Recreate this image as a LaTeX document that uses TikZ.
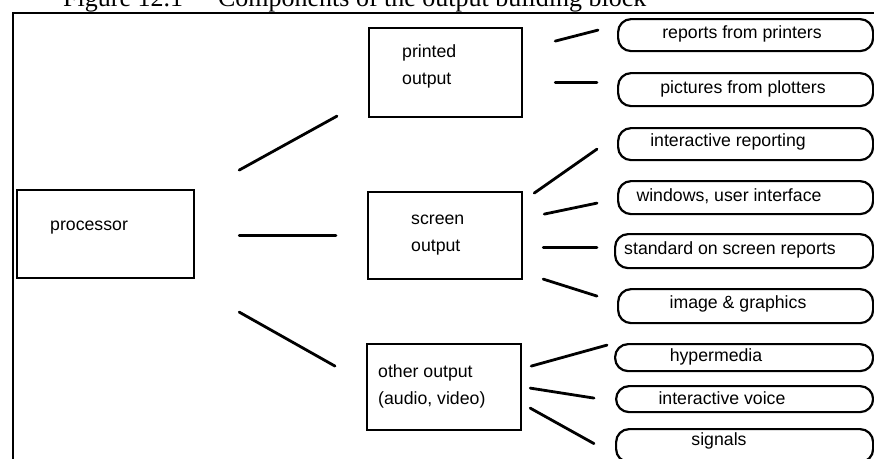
\documentclass[tikz,border=0pt]{standalone}
\usepackage{fontspec}
\setmainfont{Liberation Sans}
\newfontfamily\titlefont{Liberation Serif}
\begin{document}
\begin{tikzpicture}[x=1pt,y=-1pt,
  frame/.style={line width=2pt},
  block/.style={draw,line width=2.2pt,rectangle,anchor=north west,inner sep=0pt},
  leaf/.style={draw,line width=2.2pt,rectangle,rounded corners=13pt,anchor=north west,inner sep=0pt,minimum width=255pt},
  txt/.style={inner sep=0pt,font=\fontsize{17.7}{27}\selectfont},
  link/.style={line width=2.8pt,line cap=round}]
\clip (0,0) rectangle (874,458);

% outer frame and caption
\draw[frame] (12.5,490) -- (12.5,12.5) -- (900,12.5);
\node[anchor=base west,inner sep=0pt,font=\titlefont\fontsize{26}{30}\selectfont] (title) at (63,6.5)
  {Figure 12.1\hspace{35pt}Components of the output building block};

% main blocks
\node[block,minimum width=177pt,minimum height=88pt] (proc) at (16,189) {};
\node[block,minimum width=153pt,minimum height=89pt] (printed) at (368,27) {};
\node[block,minimum width=154pt,minimum height=87pt] (screen) at (367,191) {};
\node[block,minimum width=154pt,minimum height=86pt] (other) at (366,343) {};

\node[txt,anchor=west] (tproc) at (50,228) {processor};
\node[txt,anchor=west,align=left] (tprinted) at (402,66.5) {printed\\output};
\node[txt,anchor=west,align=left] (tscreen) at (411,235) {screen\\output};
\node[txt,anchor=west,align=left] (tother) at (378,386) {other output\\(audio, video)};

% output components
\node[leaf,minimum height=32pt] (rep) at (617,18) {};
\node[leaf,minimum height=33pt] (pic) at (617,72) {};
\node[leaf,minimum height=32pt] (irep) at (617,127) {};
\node[leaf,minimum height=33pt] (win) at (617,180) {};
\node[leaf,minimum height=34pt,minimum width=258pt] (std) at (614,233) {};
\node[leaf,minimum height=34pt] (img) at (617,288) {};
\node[leaf,minimum height=27pt,minimum width=258pt] (hyp) at (614,343) {};
\node[leaf,minimum height=26pt,minimum width=257pt] (voi) at (615,385) {};
\node[leaf,minimum height=33pt,minimum width=257pt] (sig) at (615,428) {};

\node[txt] (trep) at (742,34) {reports from printers};
\node[txt] (tpic) at (743,88.5) {pictures from plotters};
\node[txt] (tirep) at (728,142) {interactive reporting};
\node[txt] (twin) at (729,196.5) {windows, user interface};
\node[txt] (tstd) at (730,250) {standard on screen reports};
\node[txt] (timg) at (738,304) {image \& graphics};
\node[txt] (thyp) at (716,356.5) {hypermedia};
\node[txt] (tvoi) at (722,398) {interactive voice};
\node[txt] (tsig) at (719,441) {signals};

% connectors
\draw[link] ([shift={(44,-64)}]proc.east) -- ([shift={(-31,43.5)}]printed.west);
\draw[link] ([shift={(44,1)}]proc.east) -- ([shift={(-31,-0.5)}]screen.west);
\draw[link] ([shift={(44,78)}]proc.east) -- ([shift={(-31,-21)}]other.west);

\draw[link] ([shift={(32,-31.5)}]printed.east) -- ([shift={(-19,-5)}]rep.west);
\draw[link] ([shift={(32,9.5)}]printed.east) -- ([shift={(-20,-7.5)}]pic.west);

\draw[link] ([shift={(11,-42.5)}]screen.east) -- ([shift={(-20,5)}]irep.west);
\draw[link] ([shift={(21,-21.5)}]screen.east) -- ([shift={(-20,5.5)}]win.west);
\draw[link] ([shift={(20,11.5)}]screen.east) -- ([shift={(-17,-4)}]std.west);
\draw[link] ([shift={(20,43.5)}]screen.east) -- ([shift={(-20,-10)}]img.west);

\draw[link] ([shift={(9,-21)}]other.east) -- ([shift={(-7,-12.5)}]hyp.west);
\draw[link] ([shift={(8,1)}]other.east) -- ([shift={(-21,-1)}]voi.west);
\draw[link] ([shift={(8,21)}]other.east) -- ([shift={(-21,-2)}]sig.west);
\end{tikzpicture}
\end{document}
